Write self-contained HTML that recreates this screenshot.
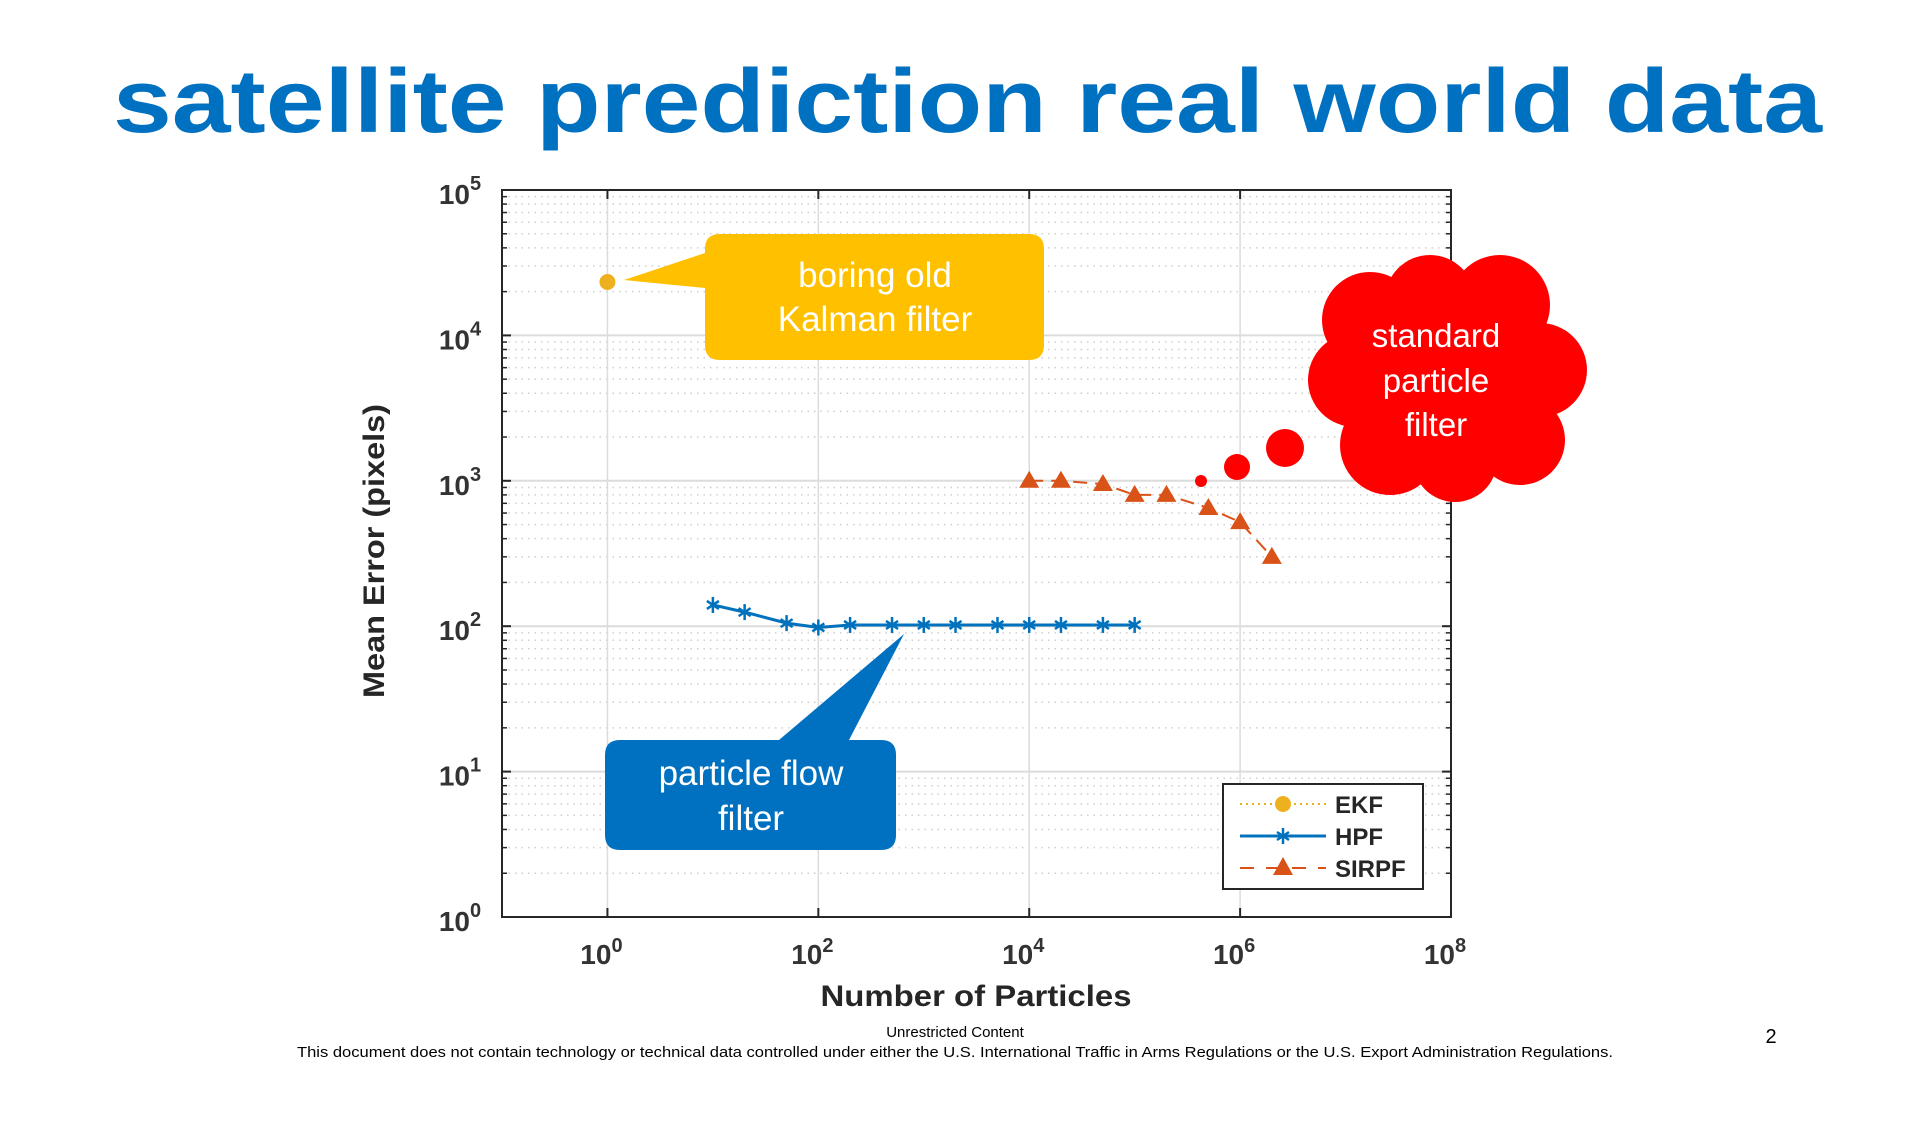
<!DOCTYPE html>
<html><head><meta charset="utf-8"><style>
html,body{margin:0;padding:0;background:#fff;width:1920px;height:1134px;overflow:hidden}
svg{display:block}
text{font-family:"Liberation Sans",Arial,sans-serif}
</style></head><body>
<svg id="s" width="1920" height="1134" viewBox="0 0 1920 1134" xmlns="http://www.w3.org/2000/svg">
<rect width="1920" height="1134" fill="#fff"/>
<text x="113" y="132" font-size="90" font-weight="bold" fill="#0070C0" textLength="1709" lengthAdjust="spacingAndGlyphs">satellite prediction real world data</text>
<g id="grid"></g>
<rect x="502" y="190" width="949" height="727" fill="none" stroke="#262626" stroke-width="2"/>
<g id="ticks" font-size="28" font-weight="bold" fill="#333"></g>
<text transform="translate(384,551) rotate(-90)" text-anchor="middle" font-size="30" font-weight="bold" fill="#262626" textLength="294" lengthAdjust="spacingAndGlyphs">Mean Error (pixels)</text>
<text x="976" y="1006" text-anchor="middle" font-size="30" font-weight="bold" fill="#262626" textLength="311" lengthAdjust="spacingAndGlyphs">Number of Particles</text>
<g id="data"></g>
<path d="M720,234 H1029 Q1044,234 1044,249 V345 Q1044,360 1029,360 H720 Q705,360 705,345 V288 L624,280 L705,253 V249 Q705,234 720,234 Z" fill="#FFC000"/>
<text x="875" y="287" text-anchor="middle" font-size="35" fill="#fff">boring old</text>
<text x="875" y="331" text-anchor="middle" font-size="35" fill="#fff">Kalman filter</text>
<path d="M620,740 H779 L904,634 L849,740 H881 Q896,740 896,755 V835 Q896,850 881,850 H620 Q605,850 605,835 V755 Q605,740 620,740 Z" fill="#0070C0"/>
<text x="751" y="785" text-anchor="middle" font-size="35" fill="#fff">particle flow</text>
<text x="751" y="830" text-anchor="middle" font-size="35" fill="#fff">filter</text>
<g fill="#FF0000">
<circle cx="1201" cy="481" r="6"/>
<circle cx="1237" cy="467" r="13"/>
<circle cx="1285" cy="448" r="19"/>
<ellipse cx="1447" cy="385" rx="100" ry="90"/>
<circle cx="1370" cy="320" r="48"/>
<circle cx="1430" cy="300" r="45"/>
<circle cx="1500" cy="305" r="50"/>
<circle cx="1540" cy="370" r="47"/>
<circle cx="1520" cy="440" r="45"/>
<circle cx="1455" cy="460" r="42"/>
<circle cx="1390" cy="445" r="50"/>
<circle cx="1355" cy="380" r="47"/>
</g>
<text x="1436" y="347" text-anchor="middle" font-size="33" fill="#fff">standard</text>
<text x="1436" y="392" text-anchor="middle" font-size="33" fill="#fff">particle</text>
<text x="1436" y="436" text-anchor="middle" font-size="33" fill="#fff">filter</text>
<rect x="1223" y="784" width="200" height="105" fill="#fff" stroke="#262626" stroke-width="2"/>
<line x1="1240" y1="804" x2="1326" y2="804" stroke="#EDB120" stroke-width="2" stroke-dasharray="2,4"/>
<circle cx="1283" cy="804" r="8" fill="#EDB120"/>
<line x1="1240" y1="836" x2="1326" y2="836" stroke="#0072BD" stroke-width="3"/>
<g stroke="#0072BD" stroke-width="2.5"><line x1="1283" y1="828" x2="1283" y2="844"/><line x1="1277" y1="832" x2="1289" y2="840"/><line x1="1277" y1="840" x2="1289" y2="832"/></g>
<line x1="1240" y1="868" x2="1326" y2="868" stroke="#D95319" stroke-width="2" stroke-dasharray="14,12"/>
<polygon points="1283,857 1293,875 1273,875" fill="#D95319"/>
<text x="1335" y="813" font-size="24" font-weight="bold" fill="#262626">EKF</text>
<text x="1335" y="845" font-size="24" font-weight="bold" fill="#262626">HPF</text>
<text x="1335" y="877" font-size="24" font-weight="bold" fill="#262626">SIRPF</text>
<text x="955" y="1037" text-anchor="middle" font-size="15" fill="#000">Unrestricted Content</text>
<text x="955" y="1057" text-anchor="middle" font-size="15" fill="#000" textLength="1316" lengthAdjust="spacingAndGlyphs">This document does not contain technology or technical data controlled under either the U.S. International Traffic in Arms Regulations or the U.S. Export Administration Regulations.</text>
<text x="1771" y="1043" text-anchor="middle" font-size="20" font-family="Liberation Serif,serif" fill="#000">2</text>
</svg>
<script>
var NS="http://www.w3.org/2000/svg";
var X0=502,X1=1451,Y0=190,Y1=917,DX=(X1-X0)/9,DY=(Y1-Y0)/5;
function X(v){return X0+(Math.log10(v)+1)*DX}
function Y(v){return Y1-Math.log10(v)*DY}
function el(p,t,a,txt){var e=document.createElementNS(NS,t);for(var k in a)e.setAttribute(k,a[k]);if(txt!==undefined)e.textContent=txt;p.appendChild(e);return e}
var g=document.getElementById("grid"),tk=document.getElementById("ticks"),d=document.getElementById("data");
for(var e=0;e<5;e++)for(var m=2;m<10;m++){var y=Y(m*Math.pow(10,e));el(g,"line",{x1:X0,y1:y,x2:X1,y2:y,stroke:"#cfcfcf","stroke-width":1.5,"stroke-dasharray":"1.5,5"});
el(g,"line",{x1:X0,y1:y,x2:X0+5,y2:y,stroke:"#262626","stroke-width":1.5});el(g,"line",{x1:X1-5,y1:y,x2:X1,y2:y,stroke:"#262626","stroke-width":1.5});}
for(var e=0;e<=8;e+=2){var x=X(Math.pow(10,e));el(g,"line",{x1:x,y1:Y0,x2:x,y2:Y1,stroke:"#dcdcdc","stroke-width":1.5});
el(g,"line",{x1:x,y1:Y1,x2:x,y2:Y1-9,stroke:"#262626","stroke-width":2});el(g,"line",{x1:x,y1:Y0,x2:x,y2:Y0+9,stroke:"#262626","stroke-width":2});
var t=el(tk,"text",{x:x-6,y:964,"text-anchor":"middle"},"10");el(t,"tspan",{dy:-12,"font-size":20},""+e);}
for(var e=0;e<=5;e++){var y=Y(Math.pow(10,e));el(g,"line",{x1:X0,y1:y,x2:X1,y2:y,stroke:"#dcdcdc","stroke-width":2});
el(g,"line",{x1:X0,y1:y,x2:X0+9,y2:y,stroke:"#262626","stroke-width":2});el(g,"line",{x1:X1-9,y1:y,x2:X1,y2:y,stroke:"#262626","stroke-width":2});
var t=el(tk,"text",{x:460,y:y+14,"text-anchor":"middle"},"10");el(t,"tspan",{dy:-14,"font-size":20},""+e);}
el(d,"circle",{cx:X(1),cy:282,r:8,fill:"#EDB120"});
var hx=[10,20,50,100,200,500,1000,2000,5000,1e4,2e4,5e4,1e5],hy=[140,125,105,98,102,102,102,102,102,102,102,102,102];
var pts=hx.map(function(v,i){return X(v)+","+Y(hy[i])}).join(" ");
el(d,"polyline",{points:pts,fill:"none",stroke:"#0072BD","stroke-width":3});
hx.forEach(function(v,i){var cx=X(v),cy=Y(hy[i]);
[[0,8],[6,4],[6,-4]].forEach(function(q){el(d,"line",{x1:cx-q[0],y1:cy-q[1],x2:cx+q[0],y2:cy+q[1],stroke:"#0072BD","stroke-width":2.5});});});
var sx=[1e4,2e4,5e4,1e5,2e5,5e5,1e6,2e6],sy=[1000,1000,950,800,800,650,520,300];
var sp=sx.map(function(v,i){return X(v)+","+Y(sy[i])}).join(" ");
el(d,"polyline",{points:sp,fill:"none",stroke:"#D95319","stroke-width":2,"stroke-dasharray":"14,8"});
sx.forEach(function(v,i){var cx=X(v),cy=Y(sy[i]);el(d,"polygon",{points:(cx)+","+(cy-10)+" "+(cx+10)+","+(cy+7)+" "+(cx-10)+","+(cy+7),fill:"#D95319"});});
</script>
</body></html>
